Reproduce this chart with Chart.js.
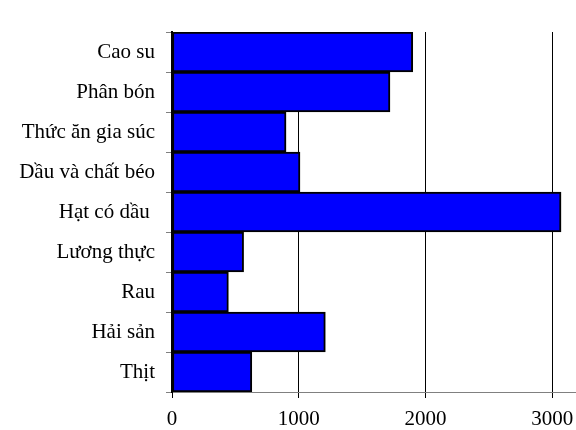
<!DOCTYPE html>
<html>
<head>
<meta charset="utf-8">
<script src="https://cdn.jsdelivr.net/npm/chart.js@4"></script>
<style>
  html, body { margin: 0; padding: 0; background: #fff; }
  #wrap { position: relative; width: 576px; height: 430px; }
</style>
</head>
<body>
<div id="wrap"><canvas id="c" width="576" height="430"></canvas></div>
<script>
const categories = ["Cao su", "Phân bón", "Thức ăn gia súc", "Dầu và chất béo", "Hạt có dầu ", "Lương thực", "Rau", "Hải sản", "Thịt"];
const values = [1900, 1720, 900, 1010, 3070, 565, 445, 1210, 630];
const xTicks = [0, 1000, 2000, 3000];
const titleText = "Giá trị nhập khẩu (Triệu USD)";

const FONT = "'Liberation Serif', 'Times New Roman', serif";

const clippedTitle = {
  id: 'clippedTitle',
  afterDraw(chart) {
    const ctx = chart.ctx;
    ctx.save();
    ctx.font = "bold 18px " + FONT;
    ctx.fillStyle = '#000';
    ctx.textAlign = 'right';
    ctx.textBaseline = 'alphabetic';
    ctx.fillText(titleText, 484, -4);
    ctx.restore();
  }
};

new Chart(document.getElementById('c'), {
  type: 'bar',
  data: {
    labels: categories,
    datasets: [{
      data: values,
      backgroundColor: '#0000FF',
      borderColor: '#000000',
      borderWidth: 2,
      borderSkipped: false,
      barPercentage: 1.0,
      categoryPercentage: 1.0
    }]
  },
  options: {
    indexAxis: 'y',
    responsive: false,
    animation: false,
    devicePixelRatio: 1,
    layout: { padding: { top: 32, right: 1, left: 0, bottom: 0 } },
    plugins: { legend: { display: false }, title: { display: false }, tooltip: { enabled: false } },
    scales: {
      x: {
        min: 0,
        max: 3180,
        afterBuildTicks(axis) { axis.ticks = xTicks.map(v => ({ value: v })); },
        afterFit(axis) { axis.height = 38; axis.paddingLeft = 0; axis.paddingRight = 0; },
        grid: { color: '#000000', lineWidth: 1, drawTicks: true, tickLength: 6, tickColor: '#000000' },
        border: { display: true, color: '#808080', width: 1 },
        ticks: { color: '#000', font: { family: FONT, size: 21 }, padding: 9, maxRotation: 0,
                 callback: (v) => String(v) }
      },
      y: {
        afterFit(axis) { axis.width = 172; axis.paddingTop = 0; axis.paddingBottom = 0; },
        grid: { drawOnChartArea: false, drawTicks: true, tickLength: 6, color: '#808080', offset: true },
        border: { display: true, color: '#000000', width: 2 },
        ticks: { color: '#000', font: { family: FONT, size: 21 }, padding: 11 }
      }
    }
  },
  plugins: [clippedTitle]
});
</script>
</body>
</html>
